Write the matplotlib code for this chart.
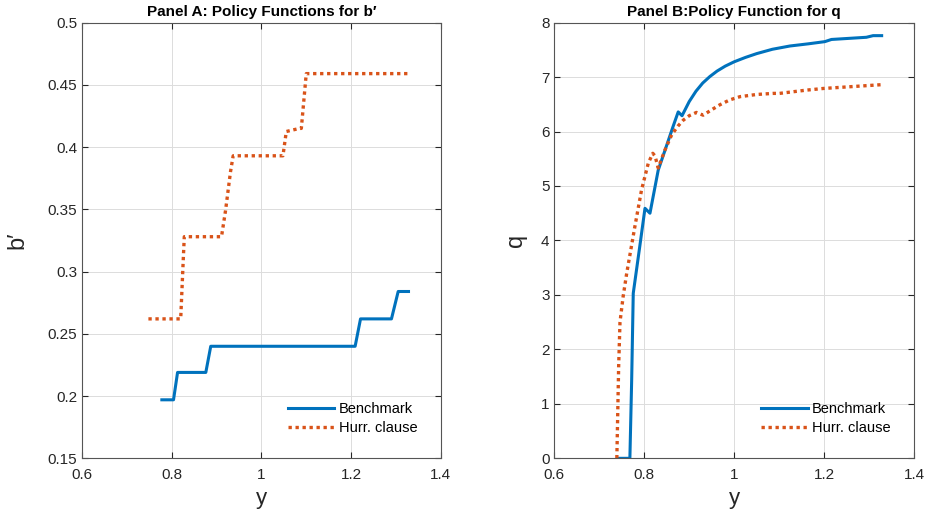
import matplotlib
matplotlib.use("Agg")
import matplotlib.pyplot as plt

plt.rcParams['font.family'] = ['Liberation Sans', 'DejaVu Sans']

blue = '#0072BD'
orange = '#D95319'
axcol = '#262626'

# Panel A: policy functions for b'
bench_b_x = [0.778, 0.804, 0.813, 0.876, 0.887, 1.209, 1.221, 1.290, 1.305, 1.328]
bench_b_y = [0.197, 0.197, 0.219, 0.219, 0.240, 0.240, 0.262, 0.262, 0.284, 0.284]

hurr_b_x = [0.748, 0.820, 0.826, 0.828, 0.911, 0.920, 0.931, 0.937, 1.048, 1.0555,
            1.085, 1.089, 1.100, 1.326]
hurr_b_y = [0.262, 0.262, 0.312, 0.328, 0.328, 0.349, 0.380, 0.393, 0.393, 0.4125,
            0.415, 0.415, 0.459, 0.459]

# Panel B: policy function for q
bench_q_x = [0.742, 0.768, 0.772, 0.7755, 0.790, 0.8016, 0.8127, 0.831, 0.850, 0.864,
             0.8755, 0.884, 0.900, 0.915, 0.930, 0.946, 0.962, 0.980, 1.0, 1.025,
             1.05, 1.085, 1.124, 1.165, 1.2016, 1.2164, 1.294, 1.309, 1.328]
bench_q_y = [0.0, 0.0, 1.44, 3.03, 3.89, 4.59, 4.50, 5.29, 5.75, 6.09,
             6.36, 6.29, 6.55, 6.74, 6.89, 7.01, 7.11, 7.20, 7.28, 7.36,
             7.43, 7.51, 7.57, 7.61, 7.65, 7.69, 7.73, 7.76, 7.76]

hurr_q_x = [0.739, 0.741, 0.743, 0.746, 0.753, 0.761, 0.779, 0.794, 0.809, 0.819,
            0.824, 0.831, 0.846, 0.861, 0.875, 0.887, 0.900, 0.916, 0.931, 0.950,
            0.968, 0.99, 1.013, 1.05, 1.087, 1.101, 1.161, 1.198, 1.235, 1.328]
hurr_q_y = [0.0, 0.83, 1.68, 2.5, 2.97, 3.40, 4.25, 4.93, 5.42, 5.60,
            5.55, 5.33, 5.66, 5.94, 6.10, 6.21, 6.29, 6.35, 6.30, 6.40,
            6.49, 6.58, 6.64, 6.68, 6.70, 6.70, 6.76, 6.79, 6.81, 6.86]

x_ticks = [0.6, 0.8, 1.0, 1.2, 1.4]
x_ticklabels = ['0.6', '0.8', '1', '1.2', '1.4']
b_ticks = [0.15, 0.2, 0.25, 0.3, 0.35, 0.4, 0.45, 0.5]
b_ticklabels = ['0.15', '0.2', '0.25', '0.3', '0.35', '0.4', '0.45', '0.5']
q_ticks = [0, 1, 2, 3, 4, 5, 6, 7, 8]


def style(ax):
    ax.set_xlim(0.6, 1.4)
    ax.set_xticks(x_ticks)
    ax.set_xticklabels(x_ticklabels)
    ax.grid(True, color='#dcdcdc', linewidth=0.7)
    ax.set_axisbelow(True)
    ax.tick_params(direction='in', top=True, right=True, length=4,
                   colors=axcol, labelsize=11, width=0.8)
    ax.tick_params(axis='x', pad=7)
    for s in ax.spines.values():
        s.set_color('#555555')
        s.set_linewidth(0.8)
    ax.set_xlabel('y', fontsize=16, color=axcol, labelpad=4)
    ax.legend(loc='lower right', frameon=False, fontsize=10.5,
              handlelength=3.2, handletextpad=0.3, borderaxespad=1.2,
              labelspacing=0.35)


fig = plt.figure(figsize=(9.27, 5.25), dpi=100)
ax1 = fig.add_axes([0.0885, 0.127, 0.387, 0.830])
ax2 = fig.add_axes([0.598, 0.127, 0.388, 0.830])

ax1.plot(bench_b_x, bench_b_y, color=blue, lw=2.2, label='Benchmark')
ax1.plot(hurr_b_x, hurr_b_y, color=orange, lw=2.4, ls=(0, (1, 1.1)),
         label='Hurr. clause')
ax1.set_ylim(0.15, 0.5)
ax1.set_yticks(b_ticks)
ax1.set_yticklabels(b_ticklabels)
ax1.set_ylabel('b\u2032', fontsize=17, color=axcol, labelpad=14)
ax1.set_title('Panel A: Policy Functions for b\u2032', fontsize=11,
              fontweight='bold', pad=5)
style(ax1)

ax2.plot(bench_q_x, bench_q_y, color=blue, lw=2.2, label='Benchmark')
ax2.plot(hurr_q_x, hurr_q_y, color=orange, lw=2.4, ls=(0, (1, 1.1)),
         label='Hurr. clause')
ax2.set_ylim(0, 8)
ax2.set_yticks(q_ticks)
ax2.set_ylabel('q', fontsize=17, color=axcol, labelpad=10)
ax2.set_title('Panel B:Policy Function for q', fontsize=11,
              fontweight='bold', pad=5)
style(ax2)

fig.savefig('out.png', dpi=100)
